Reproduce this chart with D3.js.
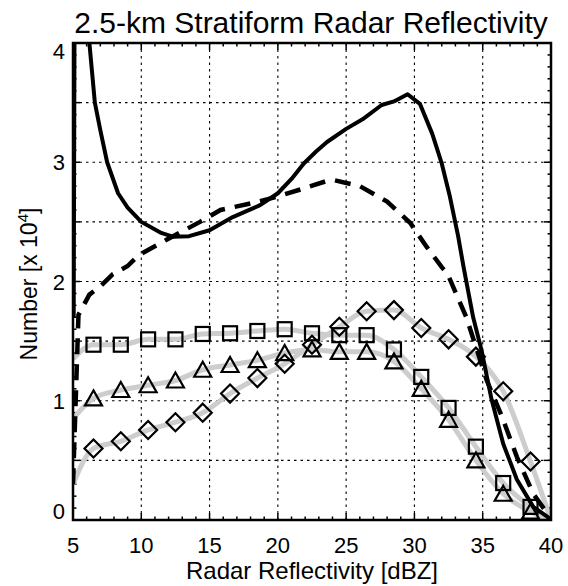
<!DOCTYPE html>
<html><head><meta charset="utf-8">
<script src="https://cdn.jsdelivr.net/npm/d3@7"></script>
<style>body{margin:0;background:#fff}svg{display:block}text{font-family:"Liberation Sans",Arial,Helvetica,sans-serif;fill:#000}</style>
</head><body>
<svg id="c" width="568" height="586"></svg>
<script>
// ---- data ----
const title = "2.5-km Stratiform Radar Reflectivity";
const xLabel = "Radar Reflectivity [dBZ]";
const xTicks = [5, 10, 15, 20, 25, 30, 35, 40];
const yTicks = [0, 1, 2, 3, 4];

const solidX = [5.05, 5.12, 5.8, 6.2, 6.6, 7.0, 7.5, 8.3, 9.0, 10.0, 11.4, 12.3, 13.5, 15.0, 16.7, 17.7, 18.7, 20.0, 21.0, 21.9, 22.8, 23.6, 25.0, 26.2, 27.6, 28.5, 29.5, 30.4, 31.3, 32.0, 32.6, 33.2, 33.6, 34.3, 34.9, 35.65, 36.5, 37.5, 38.7, 39.7, 40.0];
const solidY = [1.7, 4.5, 4.5, 4.0, 3.5, 3.27, 3.0, 2.74, 2.62, 2.5, 2.41, 2.376, 2.38, 2.43, 2.54, 2.59, 2.64, 2.74, 2.86, 2.99, 3.09, 3.17, 3.28, 3.36, 3.48, 3.51, 3.57, 3.49, 3.24, 2.99, 2.71, 2.38, 2.12, 1.70, 1.43, 1.01, 0.64, 0.34, 0.11, 0.03, 0.0];

const dashX = [5.0, 5.4, 6.2, 7.0, 7.9, 9.0, 9.8, 11.85, 14.3, 15.8, 18.2, 19.9, 21.9, 23.5, 24.1, 26.0, 28.0, 29.7, 30.9, 32.0, 32.4, 33.8, 35.3, 36.4, 37.5, 38.7, 39.7, 40.0];
const dashY = [0.3, 1.72, 1.89, 1.96, 2.06, 2.13, 2.22, 2.35, 2.50, 2.60, 2.66, 2.71, 2.78, 2.84, 2.85, 2.80, 2.67, 2.49, 2.29, 2.12, 2.07, 1.70, 1.17, 0.87, 0.53, 0.22, 0.06, 0.0];

const markerX = [6.5, 8.5, 10.5, 12.5, 14.5, 16.5, 18.5, 20.5, 22.5, 24.5, 26.5, 28.5, 30.5, 32.5, 34.5, 36.5, 38.5];
const squares   = [1.47, 1.47, 1.515, 1.515, 1.56, 1.566, 1.585, 1.60, 1.566, 1.55, 1.55, 1.43, 1.20, 0.94, 0.615, 0.31, 0.11];
const triangles = [1.02, 1.09, 1.13, 1.17, 1.26, 1.30, 1.34, 1.40, 1.43, 1.41, 1.41, 1.33, 1.10, 0.84, 0.50, 0.22, 0.07];
const diamonds  = [0.60, 0.66, 0.755, 0.82, 0.90, 1.06, 1.19, 1.31, 1.47, 1.62, 1.75, 1.76, 1.61, 1.515, 1.37, 1.08, 0.49];
// gray-line start / end values (at x = 5 and x = 40)
const grayStartX = 5.0, grayEndX = 40.0;
const squaresStart = 1.35, trianglesStart = 0.85, diamondsStart = 0.3;
const squaresEnd = 0.0, trianglesEnd = 0.0, diamondsEnd = 0.0;

// ---- layout ----
const L = 73, R = 551, T = 43, B = 520;
const svg = d3.select("#c");
const x = d3.scaleLinear().domain([5, 40]).range([L, R]);
const y = d3.scaleLinear().domain([0, 4]).range([B, T]);

svg.append("defs").append("clipPath").attr("id", "clip")
  .append("rect").attr("x", L).attr("y", T).attr("width", R - L).attr("height", B - T);

// grid
const gridG = svg.append("g").attr("stroke", "#000").attr("stroke-width", 1.1).attr("stroke-dasharray", "2.5,4");
d3.range(10, 40, 5).forEach(v => gridG.append("line").attr("x1", x(v)).attr("x2", x(v)).attr("y1", T).attr("y2", B));
d3.range(0.5, 4, 0.5).forEach(v => gridG.append("line").attr("x1", L).attr("x2", R).attr("y1", y(v)).attr("y2", y(v)));

// ticks (inside, mirrored)
const tickG = svg.append("g").attr("stroke", "#000").attr("stroke-width", 1.5);
d3.range(5, 41, 1).forEach(v => {
  const len = (v % 5 === 0) ? 7 : 3.5;
  tickG.append("line").attr("x1", x(v)).attr("x2", x(v)).attr("y1", B).attr("y2", B - len);
  tickG.append("line").attr("x1", x(v)).attr("x2", x(v)).attr("y1", T).attr("y2", T + len);
});
d3.range(0, 41, 1).forEach(i => {
  const v = i / 10;
  const len = (i % 5 === 0) ? 7 : 3.5;
  tickG.append("line").attr("x1", L).attr("x2", L + len).attr("y1", y(v)).attr("y2", y(v));
  tickG.append("line").attr("x1", R).attr("x2", R - len).attr("y1", y(v)).attr("y2", y(v));
});

const plot = svg.append("g").attr("clip-path", "url(#clip)");

// gray lines
const grayLine = d3.line().x(d => x(d[0])).y(d => y(d[1])).curve(d3.curveMonotoneX);
function grayData(start, vals, end) {
  return [[grayStartX, start]].concat(markerX.map((m, i) => [m, vals[i]])).concat([[grayEndX, end]]);
}
[[squaresStart, squares, squaresEnd], [trianglesStart, triangles, trianglesEnd], [diamondsStart, diamonds, diamondsEnd]]
  .forEach(s => plot.append("path").attr("d", grayLine(grayData(s[0], s[1], s[2])))
    .attr("fill", "none").attr("stroke", "#cdcdcd").attr("stroke-width", 5).attr("stroke-linejoin", "round"));

// black lines
const line = d3.line().x(d => x(d[0])).y(d => y(d[1]));
plot.append("path").attr("d", line(dashX.map((v, i) => [v, dashY[i]])))
  .attr("fill", "none").attr("stroke", "#000").attr("stroke-width", 4.5).attr("stroke-dasharray", "16,10");
plot.append("path").attr("d", line(solidX.map((v, i) => [v, solidY[i]])))
  .attr("fill", "none").attr("stroke", "#000").attr("stroke-width", 4).attr("stroke-linejoin", "round");

// markers
const mk = svg.append("g").attr("fill", "none").attr("stroke", "#000").attr("stroke-width", 2.2);
markerX.forEach((mx, i) => {
  const cx = x(mx);
  let cy = y(squares[i]);
  mk.append("rect").attr("x", cx - 7).attr("y", cy - 7).attr("width", 14).attr("height", 14);
  cy = y(triangles[i]);
  mk.append("path").attr("d", `M${cx},${cy - 8}L${cx + 8.5},${cy + 7}L${cx - 8.5},${cy + 7}Z`);
  cy = y(diamonds[i]);
  mk.append("path").attr("d", `M${cx},${cy - 9}L${cx + 9},${cy}L${cx},${cy + 9}L${cx - 9},${cy}Z`);
});

// box
svg.append("rect").attr("x", L).attr("y", T).attr("width", R - L).attr("height", B - T)
  .attr("fill", "none").attr("stroke", "#000").attr("stroke-width", 2.5);

// tick labels
xTicks.forEach(v => svg.append("text").attr("x", x(v)).attr("y", 553).attr("text-anchor", "middle")
  .attr("font-size", 22).text(v));
yTicks.forEach(v => {
  let yy = y(v) + 8;
  if (v === 0) yy = y(v) - 1;
  if (v === 4) yy = y(v) + 16;
  svg.append("text").attr("x", 65).attr("y", yy).attr("text-anchor", "end").attr("font-size", 22).text(v);
});

// titles
svg.append("text").attr("x", 311).attr("y", 33).attr("text-anchor", "middle").attr("font-size", 30).text(title);
svg.append("text").attr("x", 312).attr("y", 579).attr("text-anchor", "middle").attr("font-size", 24).text(xLabel);
const yl = svg.append("text").attr("transform", "translate(37,284) rotate(-90)").attr("text-anchor", "middle").attr("font-size", 23);
yl.append("tspan").text("Number [x 10");
yl.append("tspan").attr("font-size", 15).attr("dy", -9).text("4");
yl.append("tspan").attr("dy", 9).text("]");
</script>
</body></html>
